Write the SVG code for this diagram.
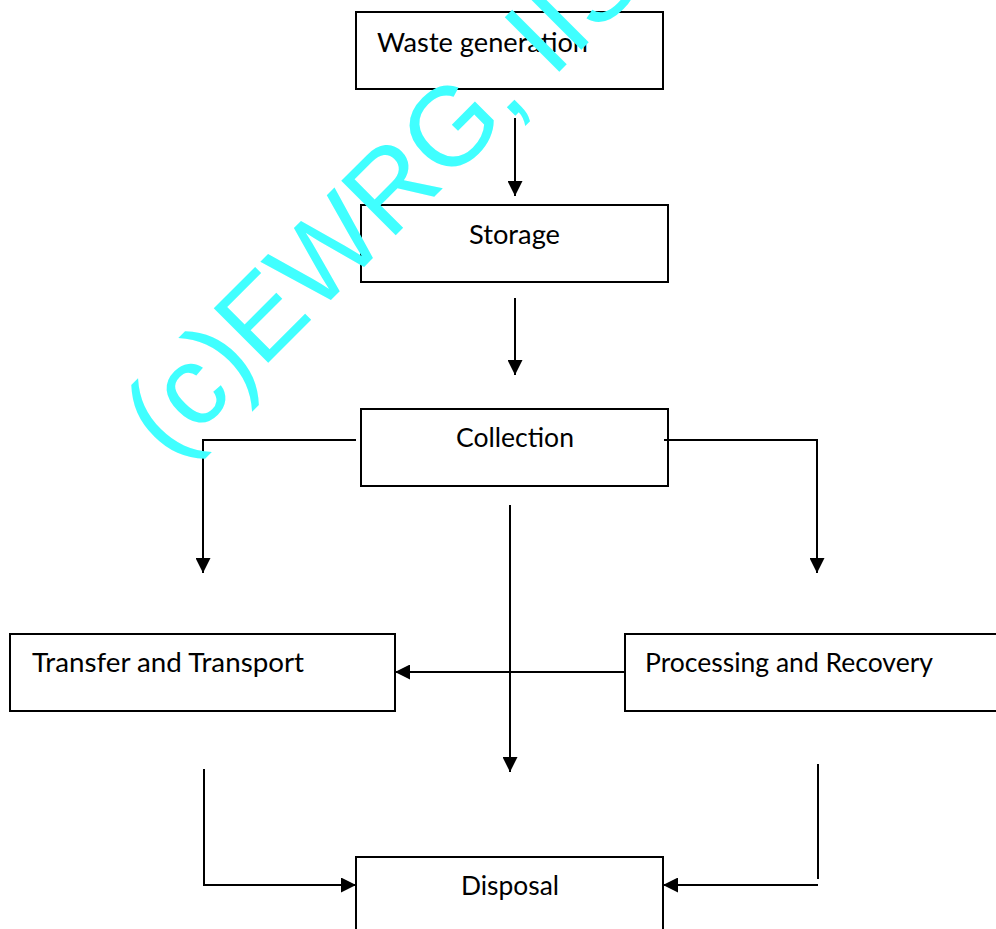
<svg xmlns="http://www.w3.org/2000/svg" width="996" height="929" viewBox="0 0 996 929">
  <defs>
    <style>
      .box { fill: #ffffff; stroke: #000000; stroke-width: 2; }
      .label { font-family: Lato, "Open Sans", sans-serif; font-size: 26.5px; fill: #000000; }
      .link { fill: none; stroke: #000000; stroke-width: 2; }
      .arrow { marker-end: url(#head); }
      .mark { font-family: "Liberation Sans", Arial, sans-serif; font-size: 112px; fill: #40FFFF; }
    </style>
    <marker id="head" markerUnits="userSpaceOnUse" markerWidth="15" markerHeight="15" refX="15" refY="7.5" orient="auto">
      <path d="M0,0 L15,7.5 L0,15 Z" fill="#000000"/>
    </marker>
  </defs>
  <rect width="996" height="929" fill="#ffffff"/>

  <!-- process steps -->
  <g id="waste-generation">
    <rect class="box" x="356" y="12" width="307" height="77"/>
    <text class="label" x="377" y="52" textLength="211" lengthAdjust="spacingAndGlyphs">Waste generation</text>
  </g>
  <g id="storage">
    <rect class="box" x="361" y="205" width="307" height="77"/>
    <text class="label" x="469" y="244" textLength="91" lengthAdjust="spacingAndGlyphs">Storage</text>
  </g>
  <g id="collection">
    <rect class="box" x="361" y="409" width="307" height="77"/>
    <text class="label" x="456" y="447" textLength="118" lengthAdjust="spacingAndGlyphs">Collection</text>
  </g>
  <g id="transfer-transport">
    <rect class="box" x="10" y="634" width="385" height="77"/>
    <text class="label" x="32" y="672" textLength="272" lengthAdjust="spacingAndGlyphs">Transfer and Transport</text>
  </g>
  <g id="processing-recovery">
    <rect class="box" x="625" y="634" width="380" height="77"/>
    <text class="label" x="645" y="672" textLength="288" lengthAdjust="spacingAndGlyphs">Processing and Recovery</text>
  </g>
  <g id="disposal">
    <rect class="box" x="356" y="857" width="307" height="80"/>
    <text class="label" x="461" y="895" textLength="98" lengthAdjust="spacingAndGlyphs">Disposal</text>
  </g>

  <!-- flow lines -->
  <g id="connectors">
    <line class="link arrow" x1="515" y1="118" x2="515" y2="196"/>
    <line class="link arrow" x1="515" y1="298" x2="515" y2="375"/>
    <polyline class="link arrow" points="356,440 203,440 203,573"/>
    <polyline class="link arrow" points="664,440 817,440 817,573"/>
    <line class="link arrow" x1="510" y1="505" x2="510" y2="772"/>
    <line class="link arrow" x1="625" y1="672" x2="395" y2="672"/>
    <polyline class="link arrow" points="204,769 204,885 356,885"/>
    <line class="link" x1="818" y1="764" x2="818" y2="879"/>
    <line class="link arrow" x1="818" y1="885" x2="663" y2="885"/>
  </g>

  <!-- copyright mark -->
  <text class="mark" x="169.4" y="461.6" transform="rotate(-45 169.4 461.6)">(c)EWRG, IISc</text>
</svg>
